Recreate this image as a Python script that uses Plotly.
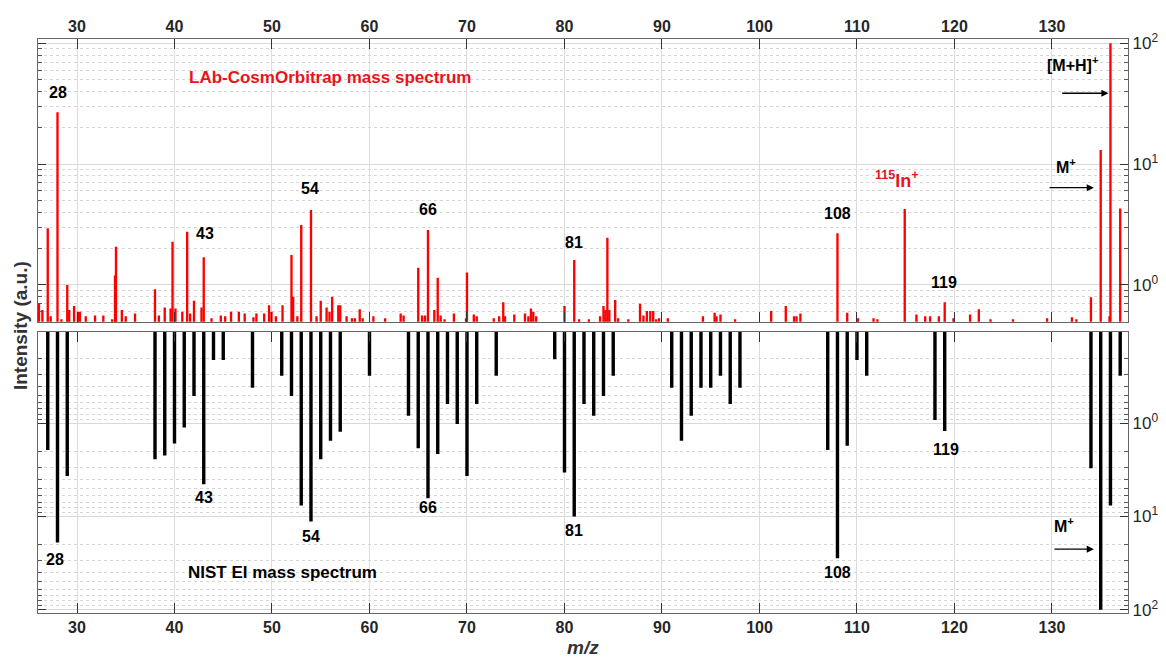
import plotly.graph_objects as go

# LAb-CosmOrbitrap spectrum (upper panel), m/z and intensity (a.u.)
orbitrap_mz = [26.1, 26.45, 27.0, 27.3, 28.0, 28.4, 29.0, 29.2, 29.7, 30.1, 30.3, 30.9, 31.85, 32.7,
               33.6, 33.9, 34.0, 34.6, 35.0, 35.95, 38.0, 38.4, 39.0, 39.6, 39.8, 40.1, 40.8, 41.3,
               41.6, 42.0, 42.77, 43.0, 43.8, 44.75, 45.2, 45.8, 46.6, 47.2, 48.1, 48.4, 49.2, 49.7,
               49.95, 50.4, 51.08, 52.0, 52.17, 52.6, 53.0, 54.0, 54.57, 55.0, 55.6, 55.9, 56.17, 56.8,
               57.0, 57.65, 58.2, 58.5, 59.0, 59.3, 60.4, 61.6, 63.2, 63.5, 65.0, 65.4, 65.7, 66.0,
               66.65, 67.0, 67.3, 67.7, 68.66, 69.9, 70.0, 70.7, 71.0, 72.75, 73.3, 73.72, 73.9, 74.85,
               75.95, 76.3, 76.56, 76.8, 77.1, 80.0, 81.0, 81.5, 82.5, 83.65, 84.0, 84.2, 84.4, 84.6,
               85.2, 85.5, 86.55, 87.75, 88.1, 88.45, 88.8, 89.1, 89.4, 89.7, 90.6, 94.2, 95.4, 95.6,
               96.0, 97.5, 101.2, 102.7, 103.55, 103.8, 104.2, 108.0, 109.0, 110.1, 111.7, 112.1,
               114.9, 116.1, 117.0, 117.5, 118.4, 119.0, 119.9, 121.6, 122.5, 123.7, 126.0, 129.5,
               132.05, 132.5, 134.0, 135.0, 135.9, 136.0, 137.0]
orbitrap_int = [0.70, 0.62, 2.95, 0.55, 26.9, 0.52, 1.0, 0.62, 0.67, 0.60, 0.60, 0.55, 0.56, 0.56,
                0.52, 1.2, 2.07, 0.62, 0.55, 0.58, 0.92, 0.56, 0.65, 0.64, 2.28, 0.64, 0.60, 2.76,
                0.58, 0.74, 0.65, 1.70, 0.53, 0.56, 0.55, 0.60, 0.60, 0.58, 0.54, 0.58, 0.58, 0.68,
                0.60, 0.55, 0.68, 1.77, 0.80, 0.55, 3.14, 4.18, 0.55, 0.74, 0.65, 0.60, 0.80, 0.68,
                0.68, 0.55, 0.53, 0.53, 0.63, 0.53, 0.55, 0.53, 0.58, 0.56, 1.39, 0.56, 0.56, 2.85,
                0.62, 1.15, 0.56, 0.52, 0.58, 0.53, 1.27, 0.57, 0.55, 0.53, 0.55, 0.72, 0.55, 0.57,
                0.58, 0.55, 0.64, 0.60, 0.55, 0.67, 1.61, 0.52, 0.52, 0.55, 0.67, 0.62, 2.46, 0.62,
                0.75, 0.53, 0.52, 0.70, 0.56, 0.61, 0.61, 0.61, 0.52, 0.53, 0.53, 0.55, 0.59, 0.55,
                0.57, 0.52, 0.61, 0.67, 0.55, 0.55, 0.58, 2.68, 0.59, 0.53, 0.53, 0.52,
                4.26, 0.57, 0.55, 0.55, 0.55, 0.72, 0.53, 0.57, 0.63, 0.52, 0.52, 0.53,
                0.54, 0.52, 0.79, 13.1, 0.55, 100.0, 4.3]

# NIST EI spectrum (lower panel, drawn downwards)
nist_mz = [27, 28, 29, 38, 39, 40, 41, 42, 43, 44, 45, 48, 51, 52, 53, 54, 55, 56, 57, 60,
           64, 65, 66, 67, 68, 69, 70, 71, 73, 79, 80, 81, 82, 83, 84, 85,
           91, 92, 93, 94, 95, 96, 97, 98, 107, 108, 109, 110, 111, 118, 119, 134, 135, 136, 137]
nist_int = [1.93, 19.0, 3.67, 2.43, 2.22, 1.65, 1.11, 0.51, 4.51, 0.21, 0.21, 0.415, 0.31, 0.51,
            7.64, 11.3, 2.43, 1.54, 1.23, 0.31,
            0.83, 1.85, 6.37, 2.13, 0.62, 1.02, 3.67, 0.62, 0.31, 0.206, 3.38, 10.0, 0.62, 0.83,
            0.51, 0.31,
            0.415, 1.54, 0.83, 0.415, 0.415, 0.31, 0.62, 0.415, 1.93, 28.0, 1.74, 0.21, 0.31,
            0.92, 1.21, 3.04, 100.0, 7.64, 0.31]

xticks = [30, 40, 50, 60, 70, 80, 90, 100, 110, 120, 130]
yticks = [1, 10, 100]
yticktext = ["10<sup>0</sup>", "10<sup>1</sup>", "10<sup>2</sup>"]

FONT = "Liberation Sans, Arial, sans-serif"
minor_vals = [m * 10 ** e for e in (-1, 0, 1) for m in range(2, 10)]

fig = go.Figure()
fig.add_trace(go.Bar(x=nist_mz, y=nist_int, width=0.35, marker_color="black",
                     marker_line_width=0, xaxis="x", yaxis="y"))
fig.add_trace(go.Bar(x=orbitrap_mz, y=orbitrap_int, width=0.24, marker_color="#ff0000",
                     marker_line_width=0, xaxis="x2", yaxis="y2"))

xstyle = dict(range=[26, 137.8], tickvals=xticks, ticktext=["<b>%d</b>" % v for v in xticks],
              ticks="inside", ticklen=10, tickwidth=1, automargin=False,
              tickcolor="#333", mirror="ticks", showline=True, linecolor="#666", linewidth=1.2,
              showgrid=True, gridcolor="#dcdcdc", zeroline=False,
              tickfont=dict(family=FONT, size=16, color="#262626"))
ystyle = dict(type="log", tickvals=yticks, ticktext=yticktext, ticks="inside", ticklen=8,
              tickcolor="#333", mirror="ticks", showline=True, linecolor="#666", linewidth=1.2,
              side="right", showgrid=True, gridcolor="#d9d9d9", zeroline=False, automargin=False,
              tickfont=dict(family=FONT, size=17, color="#262626"),
              minor=dict(tickvals=minor_vals, ticks="inside", ticklen=4, tickcolor="#555",
                         showgrid=True, gridcolor="#d6d6d6", griddash="dot"))

# the page body adds an 8 px margin, so the figure is sized to sit in the window
fig.update_layout(
    width=1158, height=652,
    margin=dict(l=30, r=38, t=31, b=47, autoexpand=False),
    plot_bgcolor="white", paper_bgcolor="white",
    showlegend=False, barmode="overlay",
    xaxis=dict(domain=[0, 1], anchor="y", side="bottom", **xstyle),
    xaxis2=dict(domain=[0, 1], anchor="y2", side="top", matches="x", **xstyle),
    yaxis=dict(domain=[0, 0.490], anchor="x", range=[2.035, -0.982], **ystyle),
    yaxis2=dict(domain=[0.5075, 1], anchor="x2", range=[-0.304, 2.036], **ystyle),
)

lbl = dict(family=FONT, size=16, color="black")

# upper panel labels (y in log10 units)
top_labels = [("28", 28.0, 1.592), ("43", 43.1, 0.428), ("54", 53.9, 0.80), ("66", 65.96, 0.621),
              ("81", 80.97, 0.353), ("108", 108.0, 0.594), ("119", 118.9, 0.019),
              ("[M+H]<sup>+</sup>", 132.2, 1.83), ("M<sup>+</sup>", 131.4, 0.985)]
for t, x, y in top_labels:
    fig.add_annotation(text="<b>" + t + "</b>", x=x, y=y, xref="x2", yref="y2",
                       showarrow=False, font=lbl)
fig.add_annotation(text="<b><sup>115</sup>In<sup>+</sup></b>", x=114.1, y=0.869, xref="x2", yref="y2",
                   showarrow=False, font=dict(family=FONT, size=18, color="#e8141c"))
fig.add_annotation(text="<b>LAb-CosmOrbitrap mass spectrum</b>", x=56.0, y=1.719, xref="x2", yref="y2",
                   showarrow=False, font=dict(family=FONT, size=17, color="#e8141c"))

bot_labels = [("28", 27.7, 1.458), ("43", 43.0, 0.797), ("54", 54.0, 1.215), ("66", 65.96, 0.905),
              ("81", 80.97, 1.151), ("108", 108.0, 1.597), ("119", 119.1, 0.279),
              ("M<sup>+</sup>", 131.2, 1.09)]
for t, x, y in bot_labels:
    fig.add_annotation(text="<b>" + t + "</b>", x=x, y=y, xref="x", yref="y",
                       showarrow=False, font=lbl)
fig.add_annotation(text="<b>NIST EI mass spectrum</b>", x=51.06, y=1.597, xref="x", yref="y",
                   showarrow=False, font=dict(family=FONT, size=17, color="black"))

# arrows
arrows = [("x2", "y2", 130.9, 135.8, 1.587), ("x2", "y2", 129.6, 134.3, 0.805),
          ("x", "y", 130.1, 134.3, 1.35)]
for xr, yr, x0, x1, y in arrows:
    fig.add_annotation(x=x1, y=y, ax=x0, ay=y, xref=xr, yref=yr, axref=xr, ayref=yr,
                       text="", showarrow=True, arrowhead=2, arrowsize=1.1, arrowwidth=1.3,
                       arrowcolor="black")

fig.add_annotation(text="<b>Intensity (a.u.)</b>", x=-0.0165, y=0.5, xref="paper", yref="paper",
                   xanchor="center", yanchor="middle",
                   textangle=-90, showarrow=False, font=dict(family=FONT, size=19, color="#333"))
fig.add_annotation(text="<b><i>m/z</i></b>", x=0.5, y=-0.0819, xref="paper", yref="paper",
                   xanchor="center", yanchor="bottom",
                   showarrow=False, font=dict(family=FONT, size=19, color="#333"))

fig.write_html("out.html")
